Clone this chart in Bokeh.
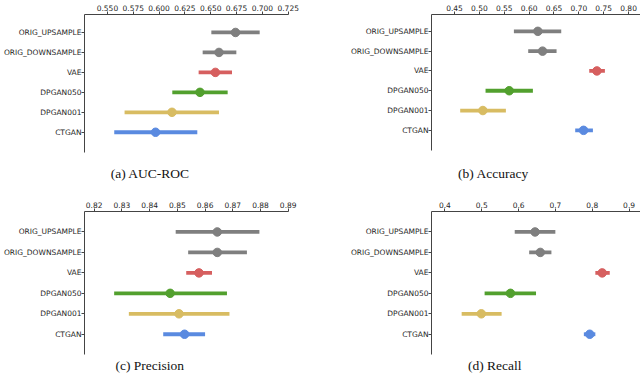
from bokeh.plotting import figure
from bokeh.layouts import gridplot
from bokeh.models import Range1d, FixedTicker, ColumnDataSource
from bokeh.core.properties import value
from bokeh.embed import file_html
from bokeh.resources import INLINE

# ---------------- data ----------------
categories = ["ORIG_UPSAMPLE", "ORIG_DOWNSAMPLE", "VAE", "DPGAN050", "DPGAN001", "CTGAN"]
colors = ["#7f7f7f", "#7f7f7f", "#d65f5f", "#52a02e", "#d8bc62", "#5a8ae0"]

auc_mean = [0.674, 0.658, 0.6545, 0.6396, 0.6125, 0.5966]
auc_lo = [0.6506, 0.6422, 0.6383, 0.6128, 0.5666, 0.5566]
auc_hi = [0.6974, 0.6748, 0.6706, 0.6664, 0.658, 0.637]
auc_ticks = [0.55, 0.575, 0.6, 0.625, 0.65, 0.675, 0.7, 0.725]
auc_tick_labels = ["0.550", "0.575", "0.600", "0.625", "0.650", "0.675", "0.700", "0.725"]

acc_mean = [0.6176, 0.627, 0.7363, 0.560, 0.507, 0.7095]
acc_lo = [0.5694, 0.5982, 0.7209, 0.5124, 0.4614, 0.6927]
acc_hi = [0.6646, 0.6552, 0.7524, 0.6076, 0.5533, 0.7283]
acc_ticks = [0.45, 0.5, 0.55, 0.6, 0.65, 0.7, 0.75, 0.8]
acc_tick_labels = ["0.45", "0.50", "0.55", "0.60", "0.65", "0.70", "0.75", "0.80"]

prec_mean = [0.8644, 0.8644, 0.8578, 0.8474, 0.8506, 0.8526]
prec_lo = [0.8494, 0.8539, 0.8532, 0.8272, 0.8325, 0.8449]
prec_hi = [0.8796, 0.8751, 0.8625, 0.8679, 0.8688, 0.860]
prec_ticks = [0.82, 0.83, 0.84, 0.85, 0.86, 0.87, 0.88, 0.89]
prec_tick_labels = ["0.82", "0.83", "0.84", "0.85", "0.86", "0.87", "0.88", "0.89"]

rec_mean = [0.6447, 0.6589, 0.827, 0.5779, 0.4988, 0.7932]
rec_lo = [0.5895, 0.6287, 0.8084, 0.5077, 0.4454, 0.7772]
rec_hi = [0.6998, 0.6891, 0.8475, 0.6473, 0.5539, 0.8084]
rec_ticks = [0.4, 0.5, 0.6, 0.7, 0.8, 0.9]
rec_tick_labels = ["0.4", "0.5", "0.6", "0.7", "0.8", "0.9"]

TICK_FONT = "DejaVu Sans"
CAP_FONT = "Liberation Serif"


def panel(mean, lo, hi, ticks, tick_labels, xr, caption, w, h,
          fl, fr, ft, row_px, y_top, y_axis_end, cap_cx, cap_cy):
    # frame spans from ft down to the bottom of the canvas; the left axis line
    # is bounded so it stops where the reference's spine stops
    frame_h = h - ft
    y_bottom = y_top + frame_h / row_px
    p = figure(width=w, height=h, x_range=Range1d(*xr), y_range=Range1d(y_bottom, y_top),
               x_axis_location="above", output_backend="svg", toolbar_location=None,
               min_border_left=int(round(fl)), min_border_right=int(round(w - fr)),
               min_border_top=int(round(ft)), min_border_bottom=0)
    p.outline_line_color = None
    p.xgrid.visible = False
    p.ygrid.visible = False
    p.background_fill_color = "white"
    p.border_fill_color = "white"

    idx = list(range(len(categories)))
    src = ColumnDataSource(dict(y=idx, m=mean, lo=lo, hi=hi, c=colors))
    p.segment(x0="lo", y0="y", x1="hi", y1="y", line_color="c", line_width=3.8, source=src)
    p.scatter(x="m", y="y", size=8.5, fill_color="c", line_color="c", source=src)

    xa = p.xaxis[0]
    xa.ticker = FixedTicker(ticks=ticks)
    xa.major_label_overrides = {t: l for t, l in zip(ticks, tick_labels)}
    xa.minor_tick_line_color = None
    xa.major_tick_out = 3
    xa.major_tick_in = 0
    xa.major_label_standoff = 1
    xa.axis_line_color = "#444444"
    xa.major_tick_line_color = "#444444"
    xa.major_label_text_font = TICK_FONT
    xa.major_label_text_font_size = "7.5px"
    xa.major_label_text_color = "#262626"

    ya = p.yaxis[0]
    ya.ticker = FixedTicker(ticks=idx)
    ya.major_label_overrides = {i: c for i, c in zip(idx, categories)}
    ya.bounds = (y_top, y_axis_end)
    ya.minor_tick_line_color = None
    ya.major_tick_out = 3
    ya.major_tick_in = 0
    ya.major_label_standoff = 0
    ya.axis_line_color = "#444444"
    ya.major_tick_line_color = "#444444"
    ya.major_label_text_font = TICK_FONT
    ya.major_label_text_font_size = "7.5px"
    ya.major_label_text_color = "#262626"

    # caption (sub-figure label) in data coordinates, derived from frame geometry
    cx = xr[0] + (cap_cx - fl) / (fr - fl) * (xr[1] - xr[0])
    cy = y_top + (cap_cy - ft) / row_px
    p.text(x=[cx], y=[cy], text=[caption], text_font=value(CAP_FONT),
           text_font_size="13.5px", text_align="center", text_baseline="middle",
           text_color="#111111")
    return p


pa = panel(auc_mean, auc_lo, auc_hi, auc_ticks, auc_tick_labels, (0.5278, 0.7253),
           "(a) AUC-ROC", 320, 186, 84.3, 288.3, 14, 19.96, -0.9, 6.0, 150, 173)
pb = panel(acc_mean, acc_lo, acc_hi, acc_ticks, acc_tick_labels, (0.4037, 0.824),
           "(b) Accuracy", 320, 186, 111.0, 320, 14, 19.8, -0.85, 6.0, 173, 173)
pc = panel(prec_mean, prec_lo, prec_hi, prec_ticks, prec_tick_labels, (0.8165, 0.8901),
           "(c) Precision", 320, 187, 83.3, 292.0, 25, 20.46, -1.0, 6.0, 150, 179)
pd_ = panel(rec_mean, rec_lo, rec_hi, rec_ticks, rec_tick_labels, (0.3635, 0.931),
            "(d) Recall", 320, 187, 107.3, 320, 25, 20.46, -1.0, 6.0, 171.7, 179)

grid = gridplot([[pa, pb], [pc, pd_]], toolbar_location=None)

open("out.html", "w").write(file_html(grid, INLINE))
